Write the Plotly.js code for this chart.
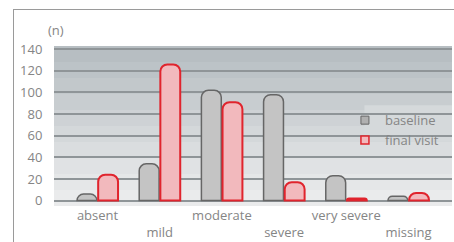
<!DOCTYPE html>
<html><head><meta charset="utf-8">
<script src="https://cdn.plot.ly/plotly-3.0.1.min.js"></script>
<style>
html,body{margin:0;padding:0;background:#fff;}
#wrap{position:relative;width:454px;height:242px;overflow:hidden;}
#frame{position:absolute;left:13px;top:9px;width:460px;height:260px;border-top:1px solid #9a9a9a;border-left:1px solid #9a9a9a;pointer-events:none;}
#chart{position:absolute;left:0;top:0;width:454px;height:242px;}
</style></head>
<body><div id="wrap"><div id="chart"></div><div id="frame"></div></div>
<script>
const categories = ["absent","mild","moderate","severe","very severe","missing"];
const tickLabels = ["absent","<br>mild","moderate","<br>severe","very severe","<br>missing"];
const baseline = [6, 34, 102, 98, 23, 4];
const finalVisit = [24, 126, 91, 17, 2, 7];
const yTicks = [0,20,40,60,80,100,120,140];

// background bands (style only)
const bandColors = ["#b7bec2","#bcc3c7","#c2c8cb","#c8cdd0","#ced2d5","#d4d8da","#dadddf","#e0e2e4","#e5e7e8","#eaebec"];
const shapes = bandColors.map((c,i)=>({type:'rect',xref:'paper',yref:'paper',x0:0,x1:1,
  y0:1-(i+1)/bandColors.length,y1:1-i/bandColors.length,fillcolor:c,line:{width:0},layer:'below'}));
// legend backdrop
shapes.push({type:'rect',xref:'paper',yref:'paper',x0:0.78,x1:1,y0:0.41,y1:0.63,
  fillcolor:'#d5d9db',line:{width:0},layer:'between'});

const traces = [
 {type:'bar',name:'baseline',x:categories,y:baseline,showlegend:false,
  marker:{color:'#c4c4c4',line:{color:'#666',width:1.5},cornerradius:7}},
 {type:'bar',name:'final visit',x:categories,y:finalVisit,showlegend:false,
  marker:{color:'#f2b9bd',line:{color:'#e0242d',width:2},cornerradius:7}},
 {type:'scatter',mode:'markers',name:'baseline',x:[null],y:[null],
  marker:{symbol:'square',size:8,color:'#b0b0b0',line:{color:'#666',width:1}}},
 {type:'scatter',mode:'markers',name:'final visit',x:[null],y:[null],
  marker:{symbol:'square',size:8,color:'#f2b9bd',line:{color:'#e0242d',width:1.5}}}
];
const layout = {
  width:454,height:242,
  margin:{l:54,r:2,t:46,b:36},
  paper_bgcolor:'rgba(0,0,0,0)',plot_bgcolor:'rgba(0,0,0,0)',
  font:{family:'Open Sans, sans-serif',size:13,color:'#858585'},
  barmode:'group',bargap:0.32,bargroupgap:0.06,
  shapes:shapes,
  xaxis:{type:'category',range:[-0.7,5.7],tickmode:'array',tickvals:categories,ticktext:tickLabels,tickangle:0,
    automargin:false,showgrid:false,zeroline:false,showline:false,ticks:'',tickfont:{size:13,color:'#858585'}},
  yaxis:{range:[-5,143],tickmode:'array',tickvals:yTicks,showgrid:true,gridcolor:'#8f9598',gridwidth:2,
    automargin:false,zeroline:false,showline:false,ticks:'outside',ticklen:8,tickcolor:'rgba(0,0,0,0)',
    tickfont:{size:13,color:'#858585'}},
  legend:{x:0.731,y:0.63,xanchor:'left',yanchor:'top',bgcolor:'rgba(0,0,0,0)',borderwidth:0,
    font:{size:13,color:'#858585'},itemwidth:30},
  annotations:[{text:'(n)',xref:'paper',yref:'paper',x:0.005,y:1.03,xanchor:'center',yanchor:'bottom',showarrow:false,
    font:{size:13,color:'#858585'}}]
};
Plotly.newPlot('chart',traces,layout,{displayModeBar:false,staticPlot:true});
</script></body></html>
